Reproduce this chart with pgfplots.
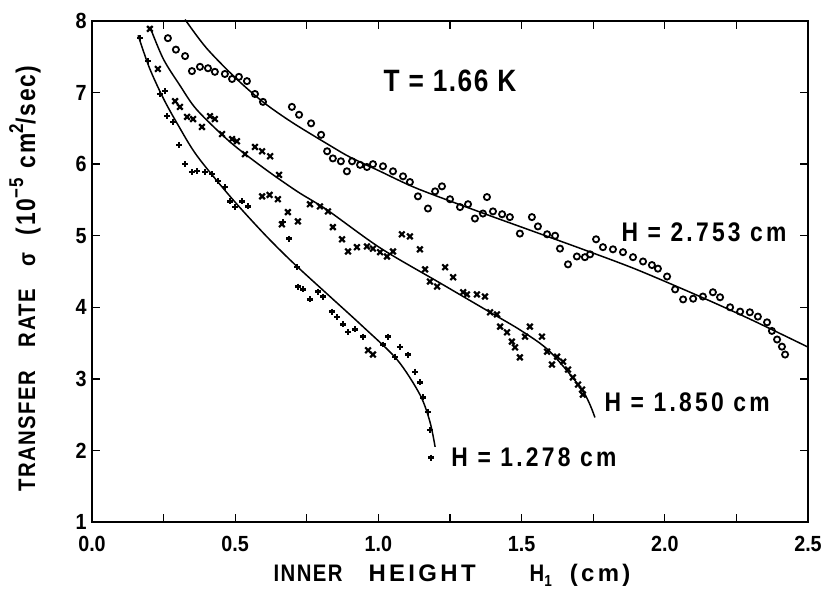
\documentclass[border=0pt]{standalone}
\usepackage{fontspec}
\setmainfont{Liberation Sans}[FakeStretch=0.9]
\newfontfamily\labfont{Liberation Sans}[FakeStretch=0.85, LetterSpace=5]
\newfontfamily\hfont{Liberation Sans}[FakeStretch=0.85, LetterSpace=12]
\newfontfamily\axfont{Liberation Sans}[FakeStretch=0.85, LetterSpace=6]
\newfontfamily\axwfont{Liberation Sans}[LetterSpace=14]
\usepackage{pgfplots}
\pgfplotsset{compat=1.18}
\pgfplotstableread{
x y
0.265 7.76
0.293 7.60
0.325 7.51
0.349 7.30
0.377 7.36
0.405 7.34
0.429 7.29
0.464 7.26
0.489 7.19
0.513 7.22
0.541 7.16
0.569 6.98
0.597 6.87
0.698 6.80
0.723 6.69
0.765 6.57
0.800 6.41
0.821 6.18
0.841 6.08
0.869 6.04
0.890 5.90
0.908 6.04
0.936 5.99
0.960 5.96
0.981 6.00
1.016 5.97
1.051 5.90
1.086 5.83
1.110 5.75
1.138 5.55
1.173 5.38
1.198 5.62
1.222 5.69
1.250 5.51
1.285 5.40
1.313 5.44
1.337 5.24
1.365 5.31
1.379 5.54
1.400 5.34
1.432 5.30
1.459 5.26
1.494 5.03
1.536 5.26
1.557 5.13
1.589 5.02
1.617 5.00
1.634 4.82
1.662 4.60
1.693 4.71
1.721 4.70
1.739 4.74
1.760 4.95
1.784 4.84
1.819 4.81
1.854 4.77
1.889 4.70
1.924 4.64
1.955 4.59
1.976 4.54
2.008 4.43
2.036 4.25
2.064 4.11
2.099 4.12
2.133 4.15
2.168 4.21
2.193 4.14
2.228 4.00
2.263 3.94
2.297 3.93
2.325 3.87
2.357 3.79
2.374 3.67
2.392 3.55
2.409 3.45
2.420 3.34
}\sqdata
\pgfplotstableread{
x y
0.202 7.89
0.230 7.33
0.290 6.88
0.307 6.80
0.332 6.66
0.353 6.63
0.384 6.52
0.412 6.67
0.429 6.63
0.454 6.42
0.489 6.35
0.506 6.32
0.534 6.14
0.569 6.24
0.594 6.18
0.622 6.11
0.653 5.85
0.594 5.55
0.620 5.57
0.649 5.51
0.663 5.16
0.684 5.33
0.719 5.20
0.761 5.44
0.796 5.41
0.824 5.34
0.841 5.12
0.873 4.95
0.894 4.78
0.925 4.84
0.960 4.85
0.981 4.82
1.006 4.77
1.030 4.71
1.051 4.78
1.082 5.02
1.110 4.99
1.145 4.81
1.163 4.53
1.180 4.36
1.205 4.29
1.233 4.56
1.261 4.42
1.296 4.21
1.309 4.18
1.344 4.18
1.372 4.15
1.390 3.93
1.414 3.90
1.425 3.73
1.449 3.65
1.466 3.52
1.477 3.44
1.494 3.30
1.512 3.59
1.529 3.73
1.571 3.59
1.589 3.38
1.606 3.20
1.624 3.31
1.645 3.24
1.662 3.13
1.679 3.02
1.697 2.92
1.711 2.85
1.714 2.78
0.964 3.40
0.981 3.34
}\xdata
\pgfplotstableread{
x y
0.168 7.76
0.196 7.44
0.237 6.98
0.255 7.02
0.262 6.67
0.283 6.59
0.304 6.27
0.325 6.00
0.349 5.89
0.367 5.90
0.395 5.89
0.419 5.86
0.440 5.76
0.464 5.68
0.482 5.48
0.499 5.40
0.524 5.48
0.545 5.41
0.667 5.19
0.688 4.96
0.716 4.56
0.719 4.29
0.737 4.25
0.761 4.11
0.789 4.22
0.807 4.15
0.838 3.94
0.855 3.86
0.876 3.76
0.894 3.65
0.918 3.69
0.946 3.59
1.016 3.48
1.034 3.59
1.058 3.31
1.075 3.45
1.103 3.34
1.128 3.10
1.145 2.95
1.156 2.74
1.173 2.54
1.180 2.29
1.184 1.90
}\pldata
\begin{document}
\begin{tikzpicture}
\begin{axis}[
  scale only axis, width=716bp, height=501bp,
  xmin=0, xmax=2.5, ymin=1, ymax=8,
  axis line style={line width=1.6pt},
  tick align=inside, major tick length=8bp, minor tick length=8bp,
  every tick/.style={line width=1.3pt, black},
  xtick={0,0.5,1,1.5,2,2.5}, xticklabels={0.0,0.5,1.0,1.5,2.0,2.5},
  minor xtick={0.25,0.75,1.25,1.75,2.25},
  ytick={1,2,3,4,5,6,7,8},
  /pgf/number format/assume math mode=true,
  ticklabel style={font=\fontsize{22}{22}\selectfont\bfseries},
  xticklabel style={yshift=-11bp},
  yticklabel style={xshift=-2bp},
  clip=false,
]
\coordinate (O) at (rel axis cs:0,0);
\addplot[only marks, mark=o, mark size=3.1pt, mark options={line width=1.8pt}] table {\sqdata};
\addplot[only marks, mark=x, mark size=4pt, mark options={line width=2.2pt}] table {\xdata};
\addplot[only marks, mark=+, mark size=3pt, mark options={line width=2.3pt}] table {\pldata};
\addplot[smooth, line width=1.5pt, no marks] coordinates {
(0.325,8.02) (0.40,7.62) (0.505,7.19) (0.60,6.86) (0.70,6.58) (0.831,6.26) (0.90,6.10) (1.006,5.90) (1.135,5.66) (1.355,5.33) (1.50,5.12) (1.714,4.81) (1.90,4.53) (2.123,4.15) (2.30,3.83) (2.497,3.45)};
\addplot[smooth, line width=1.5pt, no marks] coordinates {
(0.202,7.92) (0.249,7.47) (0.307,7.10) (0.366,6.76) (0.482,6.31) (0.598,5.95) (0.716,5.62) (0.821,5.36) (1.006,4.83) (1.215,4.34) (1.39,3.93) (1.50,3.67) (1.599,3.38) (1.714,2.83) (1.756,2.46)};
\addplot[smooth, line width=1.5pt, no marks] coordinates {
(0.161,7.80) (0.20,7.35) (0.249,6.92) (0.30,6.55) (0.366,6.12) (0.482,5.55) (0.60,5.03) (0.70,4.63) (0.831,4.15) (0.946,3.73) (1.065,3.27) (1.145,2.78) (1.18,2.40) (1.198,2.05)};
\node[font=\labfont\fontsize{31}{31}\selectfont\bfseries] at (axis cs:1.25,7.16) {T = 1.66 K};
\node[font=\hfont\fontsize{27}{27}\selectfont\bfseries] at (axis cs:2.137,5.05) {H = 2.753 cm};
\node[font=\hfont\fontsize{27}{27}\selectfont\bfseries] at (axis cs:2.078,2.667) {H = 1.850 cm};
\node[font=\hfont\fontsize{27}{27}\selectfont\bfseries] at (axis cs:1.543,1.91) {H = 1.278 cm};
\node[font=\axfont\fontsize{24}{24}\selectfont\bfseries] at (axis cs:1.257,0.25) {INNER\hspace{26bp}{\axwfont HEIGHT}\hspace{54bp}H\raisebox{-0.2em}{\fontsize{16}{16}\selectfont 1}\hspace{18bp}{\axwfont (cm)}};
\node[rotate=90, font=\axfont\fontsize{24}{24}\selectfont\bfseries] at (axis cs:-0.234,4.40) {TRANSFER\hspace{24bp}RATE\hspace{22bp}σ\hspace{18bp}{\fontsize{27}{27}\selectfont(10\raisebox{0.45em}{\fontsize{20}{20}\selectfont −5}\hspace{10bp}cm\raisebox{0.45em}{\fontsize{20}{20}\selectfont 2}/sec)}};
\end{axis}
\pgfresetboundingbox
\path (O) ++(-92bp,-70bp) rectangle ++(827bp,592bp);
\end{tikzpicture}
\end{document}
